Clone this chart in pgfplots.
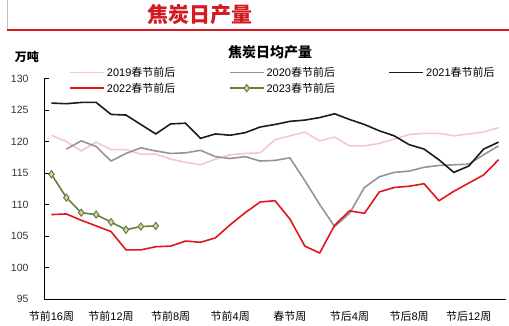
\documentclass[border=0pt]{standalone}
\usepackage{fontspec}
\setmainfont{Liberation Sans}
\newfontfamily\cjk{Noto Sans CJK SC}
\usepackage{pgfplots}
\pgfplotsset{compat=1.18}
\definecolor{c19}{HTML}{F7C6CB}
\definecolor{c20}{HTML}{959595}
\definecolor{c21}{HTML}{1C1C1C}
\definecolor{c22}{HTML}{E2141E}
\definecolor{c23}{HTML}{6A7F3F}
\definecolor{c23f}{HTML}{D7D3A2}
\definecolor{titlered}{HTML}{D21A20}
\begin{document}
\begin{tikzpicture}
\path[use as bounding box] (0pt,0pt) rectangle (509pt,-325pt);
\draw[gray!50, line width=0.6pt] (7pt,0pt) -- (7pt,-30pt);
\draw[titlered, line width=1.6pt] (7pt,-30pt) -- (509pt,-30pt);
\node[font=\cjk\bfseries\fontsize{21}{24}\selectfont, text=titlered] at (200pt,-15pt) {焦炭日产量};
\node[font=\cjk\bfseries\fontsize{12}{14}\selectfont] at (27pt,-57pt) {万吨};
\node[font=\cjk\bfseries\fontsize{14}{16}\selectfont] at (270pt,-52pt) {焦炭日均产量};
\begin{axis}[
  at={(44pt,-299pt)}, anchor=south west,
  width=462pt, height=220.5pt, scale only axis,
  xmin=-16.5, xmax=14.5, ymin=95, ymax=130,
  axis x line=bottom, axis y line=left,
  axis line style={-, black, line width=0.8pt},
  ytick={95,100,...,130},
  ytick align=inside, xtick align=outside,
  major tick length=5pt,
  ytick style={black, line width=0.8pt},
  yticklabel style={font=\fontsize{10.5}{12}\selectfont, text=black!80, xshift=-12pt},
  /pgf/number format/assume math mode=true,
  xtick={-16,-12,...,12},
  xticklabels={{\cjk 节前}16{\cjk 周},{\cjk 节前}12{\cjk 周},{\cjk 节前}8{\cjk 周},{\cjk 节前}4{\cjk 周},{\cjk 春节周},{\cjk 节后}4{\cjk 周},{\cjk 节后}8{\cjk 周},{\cjk 节后}12{\cjk 周}},
  xtick style={draw=none},
  xticklabel style={font=\fontsize{11}{13}\selectfont, yshift=-4pt},
  extra x ticks={-12.5,-8.5,-4.5,-0.5,3.5,7.5,11.5},
  extra x tick labels={},
  extra x tick style={tick style={black, line width=0.8pt, draw=black}},
  legend columns=3,
  legend cell align=left,
  legend style={at={(axis description cs:0.0545,1.062)}, anchor=north west, draw=none, fill=none, inner sep=0pt,
    font=\fontsize{11}{13}\selectfont, row sep=1pt},
  legend image code/.code={\draw[line width=1.6pt, mark repeat=2,mark phase=2] plot coordinates {(0pt,0pt) (17pt,0pt) (34pt,0pt)};},
  clip=false,
]
\addplot[c19, line width=1.6pt, mark=none] table {
-16 121.0
-15 120.0
-14 118.5
-13 119.9
-12 118.7
-11 118.7
-10 118.0
-9 118.0
-8 117.2
-7 116.7
-6 116.3
-5 117.2
-4 117.9
-3 118.1
-2 118.2
-1 120.3
0 120.9
1 121.5
2 120.1
3 120.7
4 119.3
5 119.3
6 119.7
7 120.4
8 121.1
9 121.3
10 121.3
11 120.9
12 121.2
13 121.5
14 122.2
};
\addlegendentry{\makebox[120pt][l]{2019{\cjk 春节前后}}}
\addplot[c20, line width=1.6pt, mark=none] table {
-15 118.8
-14 120.1
-13 119.2
-12 116.9
-11 118.1
-10 119.0
-9 118.5
-8 118.1
-7 118.2
-6 118.6
-5 117.6
-4 117.3
-3 117.6
-2 116.9
-1 117.0
0 117.4
1 113.8
2 110.0
3 106.5
4 108.6
5 112.7
6 114.4
7 115.1
8 115.3
9 115.9
10 116.2
11 116.3
12 116.4
13 117.9
14 119.3
};
\addlegendentry{\makebox[120pt][l]{2020{\cjk 春节前后}}}
\addplot[c21, line width=1.6pt, mark=none] table {
-16 126.1
-15 126.0
-14 126.2
-13 126.2
-12 124.3
-11 124.2
-10 122.7
-9 121.2
-8 122.8
-7 122.9
-6 120.5
-5 121.2
-4 121.0
-3 121.4
-2 122.3
-1 122.7
0 123.2
1 123.4
2 123.8
3 124.4
4 123.5
5 122.7
6 121.7
7 120.9
8 119.5
9 118.8
10 117.1
11 115.1
12 116.1
13 118.8
14 119.9
};
\addlegendentry{\makebox[120pt][l]{2021{\cjk 春节前后}}}
\addplot[c22, line width=1.6pt, mark=none] table {
-16 108.4
-15 108.5
-14 107.5
-13 106.6
-12 105.7
-11 102.8
-10 102.8
-9 103.3
-8 103.4
-7 104.2
-6 104.0
-5 104.7
-4 106.8
-3 108.7
-2 110.4
-1 110.6
0 107.7
1 103.4
2 102.3
3 106.7
4 109.0
5 108.6
6 112.0
7 112.7
8 112.9
9 113.3
10 110.6
11 112.1
12 113.4
13 114.7
14 117.1
};
\addlegendentry{\makebox[120pt][l]{2022{\cjk 春节前后}}}
\addplot[c23, line width=1.6pt, mark=diamond*, mark size=3.6pt, mark options={fill=c23f, draw=c23, line width=1pt}] table {
-16 114.8
-15 111.1
-14 108.7
-13 108.4
-12 107.2
-11 106.0
-10 106.5
-9 106.6
};
\addlegendentry{\makebox[120pt][l]{2023{\cjk 春节前后}}}
\end{axis}
\end{tikzpicture}
\end{document}
